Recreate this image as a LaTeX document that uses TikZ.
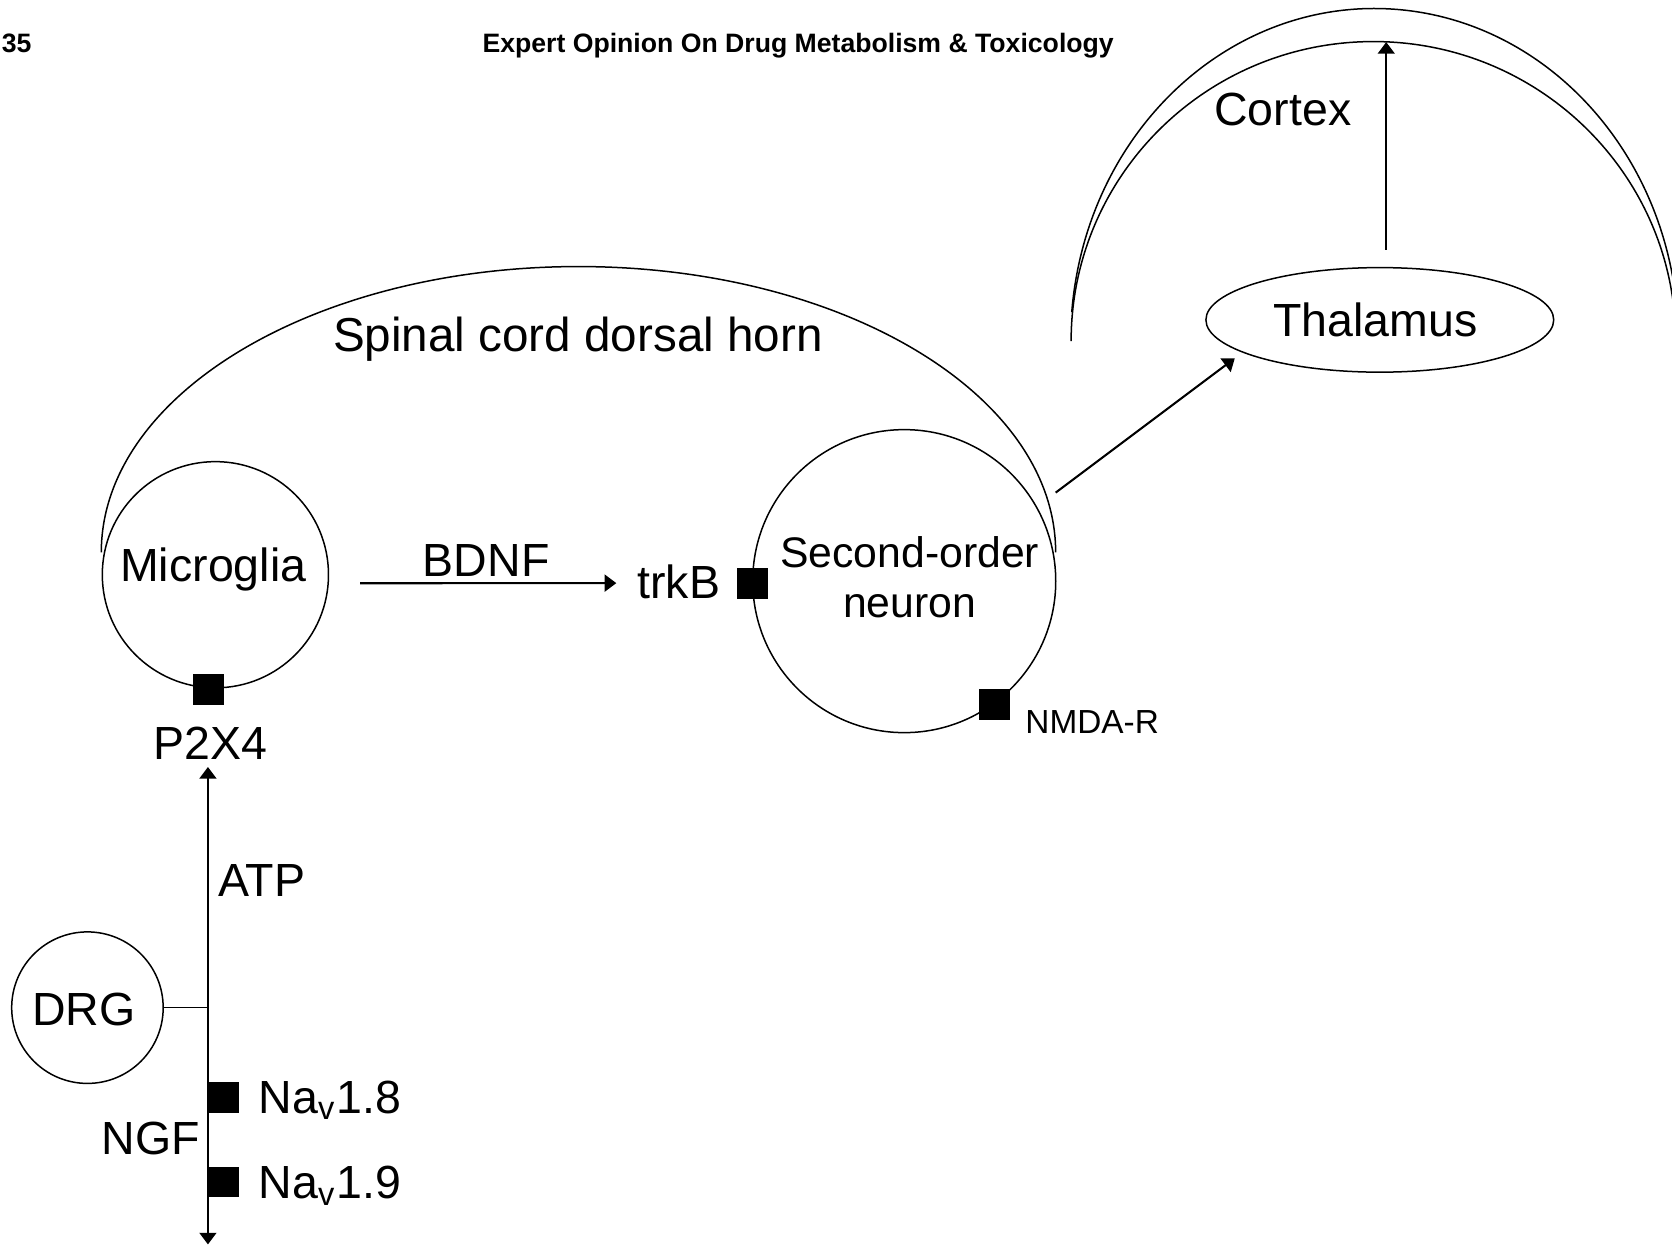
\documentclass[tikz,border=0pt]{standalone}
\usepackage{fontspec}
\setmainfont{Liberation Sans}
\usetikzlibrary{arrows.meta,calc,shapes.geometric}

\begin{document}
\begin{tikzpicture}[x=0.01cm,y=-0.01cm,
  cell/.style={draw,circle,line width=0.4pt,inner sep=0pt},
  rcp/.style={fill=black,inner sep=0pt,minimum size=0.29cm},
  lbl/.style={inner sep=0pt,font=\fontsize{12.4}{15}\selectfont},
  sig/.style={line width=0.55pt,-{Triangle[length=3.1pt,width=4.5pt]}}]
  \useasboundingbox (0,0) rectangle (1568,1168);

  \node[inner sep=0pt,anchor=base west,font=\fontsize{7.1}{8}\selectfont\bfseries] (pg) at (1,49) {35};
  \node[inner sep=0pt,anchor=base,font=\fontsize{7.1}{8}\selectfont\bfseries] (jrnl) at (748.5,49) {Expert Opinion On Drug Metabolism \& Toxicology};

  \node[cell,minimum size=2.12cm] (micro) at (202,539) {};
  \node[cell,minimum size=2.84cm] (neuron) at (848,545) {};
  \node[cell,minimum size=1.42cm] (drg) at (82,945) {};
  \node[draw,ellipse,line width=0.4pt,inner sep=0pt,minimum width=3.26cm,minimum height=0.98cm] (thal) at (1294,300) {};

  \draw[line width=0.4pt] (95,518) arc[start angle=180,end angle=360,x radius=447.5,y radius=268];
  \draw[line width=0.4pt] (1289,320) ++(185:285 and 312) arc[start angle=185,end angle=355,x radius=285,y radius=312];
  \draw[line width=0.4pt] (1004.5,320) arc[start angle=180,end angle=360,x radius=283.5,y radius=281];
  \coordinate (ctxin) at (1300,39.5);

  \node[rcp] (sqp2x4) at (195.5,646.5) {};
  \node[rcp] (sqtrkb) at (706,547) {};
  \node[rcp] (sqnmda) at (932.5,661) {};
  \node[rcp] (sqna8) at (209.5,1029.5) {};
  \node[rcp] (sqna9) at (209.5,1108.5) {};

  \node[lbl,anchor=base,font=\fontsize{12.7}{15}\selectfont] (sdh) at (542,330) {Spinal cord dorsal horn};
  \node[lbl,anchor=base] (microtxt) at (200,545) {Microglia};
  \node[lbl,anchor=base] (bdnf) at (456,541) {BDNF};
  \node[lbl,anchor=base west] (trkb) at (597,561) {trkB};
  \node[lbl,anchor=base,font=\fontsize{11.4}{13}\selectfont] (neu1) at (853,532) {Second-order};
  \node[lbl,anchor=base,font=\fontsize{11.4}{13}\selectfont] (neu2) at (853,579) {neuron};
  \node[lbl,anchor=base west,font=\fontsize{8.9}{10}\selectfont] (nmda) at (961,688) {NMDA-R};
  \node[lbl,anchor=base] (p2x4) at (197,712) {P2X4};
  \node[lbl,anchor=base west] (atp) at (204,841) {ATP};
  \node[lbl,anchor=base] (drgtxt) at (78.5,961.6) {DRG};
  \node[lbl,anchor=base east] (ngf) at (188,1083) {NGF};
  \node[lbl,anchor=base west] (na8) at (242,1044) {Na\textsubscript{v}1.8};
  \node[lbl,anchor=base west] (na9) at (242,1124) {Na\textsubscript{v}1.9};
  \node[lbl,anchor=base] (thaltxt) at (1290,316) {Thalamus};
  \node[lbl,anchor=base] (ctx) at (1203,118) {Cortex};

  \coordinate (jn) at (195,945);
  \coordinate (ngfend) at (195,1167);
  \draw[line width=0.4pt] (drg.east) -- (jn);
  \draw[sig] (jn) -- ($(p2x4.south)+(-2,6.6)$);
  \draw[sig] (jn) -- (ngfend);
  \draw[sig] ($(micro.east)+(29,8)$) -- ($(trkb.west)+(-19,1.5)$);
  \draw[sig] ($(neuron.center)+(142,-83)$) -- ($(thal.center)+(-136,36)$);
  \draw[sig] ($(thal.north)+(6,-16)$) -- (ctxin);
\end{tikzpicture}
\end{document}
